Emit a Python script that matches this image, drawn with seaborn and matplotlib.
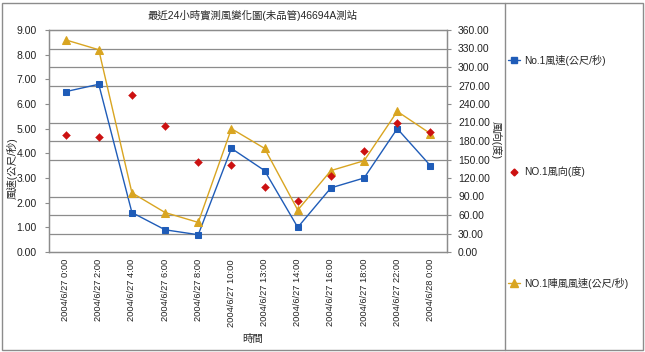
import numpy as np
import pandas as pd
import seaborn as sns
import matplotlib.pyplot as plt
from matplotlib.patches import Rectangle
from matplotlib.lines import Line2D

times = ['2004/6/27 0:00', '2004/6/27 2:00', '2004/6/27 4:00', '2004/6/27 6:00',
         '2004/6/27 8:00', '2004/6/27 10:00', '2004/6/27 13:00', '2004/6/27 14:00',
         '2004/6/27 16:00', '2004/6/27 18:00', '2004/6/27 22:00', '2004/6/28 0:00']
speed = [6.5, 6.8, 1.6, 0.9, 0.7, 4.2, 3.3, 1.0, 2.6, 3.0, 5.0, 3.5]
gust = [8.6, 8.2, 2.4, 1.6, 1.2, 5.0, 4.2, 1.7, 3.3, 3.7, 5.7, 4.8]
direction = [190, 187, 255, 204, 146, 141, 106, 82, 124, 163, 210, 194]

speed_label = 'No.1風速(公尺/秒)'
dir_label = 'NO.1風向(度)'
gust_label = 'NO.1陣風風速(公尺/秒)'

sns.set_style('white')
plt.rcParams['font.family'] = ['Liberation Sans', 'Noto Sans CJK TC', 'DejaVu Sans']
plt.rcParams['font.size'] = 7

df = pd.DataFrame({'time': times, 'speed': speed, 'gust': gust, 'dir': direction})
df['x'] = np.arange(len(times))

c_blue = '#1f5cb8'
c_red = '#cc1111'
c_gold = '#d9a521'

fig = plt.figure(figsize=(6.45, 3.52), dpi=100)
W, H = 645, 352
ax = fig.add_axes([49 / W, (H - 252) / H, 398 / W, 222 / H])

sns.lineplot(data=df, x='x', y='speed', ax=ax, color=c_blue, marker='s', markersize=4,
             markeredgecolor=c_blue, linewidth=1, legend=False, zorder=3)
sns.lineplot(data=df, x='x', y='gust', ax=ax, color=c_gold, marker='^', markersize=6,
             markeredgecolor=c_gold, linewidth=1, legend=False, zorder=3)

ax2 = ax.twinx()
sns.scatterplot(data=df, x='x', y='dir', ax=ax2, color=c_red, marker='D', s=16,
                edgecolor=c_red, legend=False, zorder=4)

ax.set_xlim(-0.5, len(times) - 0.5)
ax.set_ylim(0, 9)
ax2.set_ylim(0, 360)
ax.set_yticks(np.arange(0, 9.01, 1))
ax.set_yticklabels(['%.2f' % v for v in np.arange(0, 9.01, 1)])
ax2.set_yticks(np.arange(0, 360.1, 30))
ax2.set_yticklabels(['%.2f' % v for v in np.arange(0, 360.1, 30)])
ax.set_yticks(np.arange(0, 9.01, 0.75), minor=True)
ax.grid(which='minor', axis='y', color='#8c8c8c', linewidth=0.9)
ax.tick_params(axis='y', which='minor', length=0)
ax.set_xticks(df['x'])
ax.set_xticklabels(times, rotation=90)

for a in (ax, ax2):
    for s in a.spines.values():
        s.set_color('#8c8c8c')
        s.set_linewidth(0.9)
    a.tick_params(which='major', length=3, width=0.8, color='#8c8c8c',
                  labelcolor='#222222', labelsize=7.5, pad=2)
ax.tick_params(axis='x', labelsize=6.7)
ax2.tick_params(axis='y', pad=5)
ax.tick_params(axis='y', pad=6)
ax.set_xlabel('')
ax.set_ylabel('')
ax2.set_ylabel('')

fig.text(253 / W, 1 - 15 / H, '最近24小時實測風變化圖(未品管)46694A測站', ha='center', va='center', fontsize=7.5)
fig.text(253 / W, 1 - 339 / H, '時間', ha='center', va='center', fontsize=7.5)
fig.text(12 / W, 1 - 168 / H, '風速(公尺/秒)', ha='center', va='center', rotation=90, fontsize=7.5)
fig.text(496 / W, 1 - 140 / H, '風向(度)', ha='center', va='center', rotation=270, fontsize=7.5)

# outer border and legend separator
fig.add_artist(Rectangle((2 / W, 2 / H), 641 / W, 347 / H, transform=fig.transFigure,
                         fill=False, edgecolor='#8c8c8c', linewidth=1))
fig.add_artist(Line2D([505 / W, 505 / W], [2 / H, 349 / H], transform=fig.transFigure,
                      color='#8c8c8c', linewidth=1))

handles = [
    Line2D([], [], color=c_blue, marker='s', markersize=4, linewidth=1),
    Line2D([], [], color=c_red, marker='D', markersize=3.5, linestyle='none'),
    Line2D([], [], color=c_gold, marker='^', markersize=6, linewidth=1),
]
fig.legend(handles, [speed_label, dir_label, gust_label], loc='upper left',
           bbox_to_anchor=(508 / W, 1 - 55 / H), frameon=False, fontsize=7.3,
           labelspacing=9.9, handlelength=1.2, handletextpad=0.4,
           borderpad=0, borderaxespad=0)

fig.savefig('out.png', dpi=100)
